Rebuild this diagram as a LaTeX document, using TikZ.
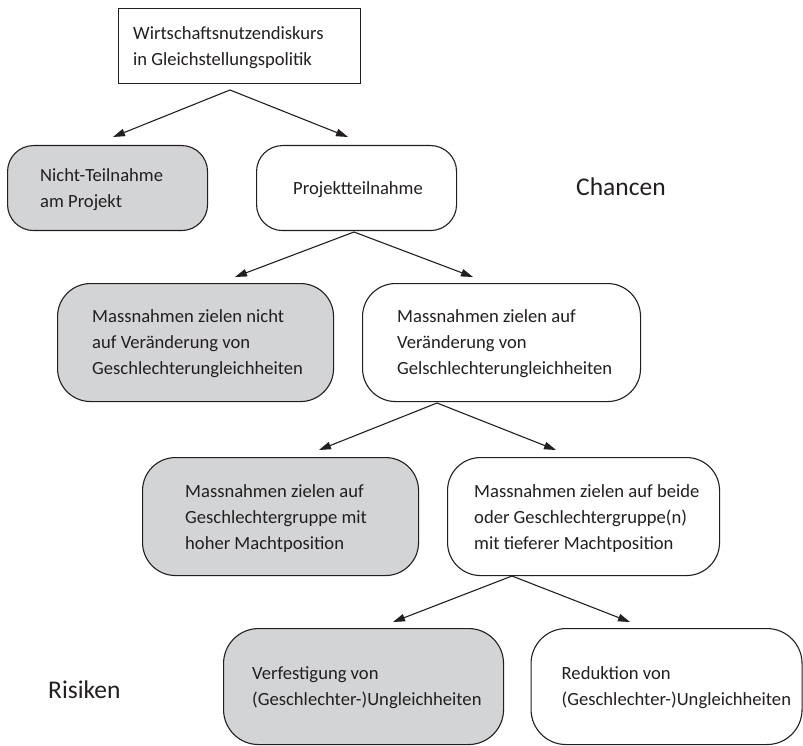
\documentclass[tikz,border=0pt]{standalone}
\usepackage{fontspec}
\setmainfont{Carlito}
\usetikzlibrary{arrows.meta}
\definecolor{boxgray}{RGB}{211,212,214}
\definecolor{ink}{RGB}{35,31,32}
\begin{document}
\begin{tikzpicture}[x=1pt,y=-1pt,
  every node/.style={text=ink},
  box/.style={draw=ink, line width=1.1pt, anchor=north west, inner sep=0pt},
  gbox/.style={box, fill=boxgray},
  wbox/.style={box, fill=white},
  txt/.style={align=left, anchor=west, inner sep=0pt, yshift=-1.5pt,
    font=\fontsize{18.6}{26}\selectfont},
  big/.style={font=\fontsize{25.5}{30}\selectfont, inner sep=0pt},
  arr/.style={draw=ink, line width=1.1pt, -{Triangle[length=12pt,width=7.5pt]}}]
\useasboundingbox (0,0) rectangle (803,746);

% boxes
\node[wbox, minimum width=242pt, minimum height=75pt] (top) at (118,8) {};
\node[txt, xshift=15pt] (topt) at (top.west) {Wirtschaftsnutzendiskurs\\in Gleichstellungspolitik};

\node[gbox, rounded corners=26pt, minimum width=200pt, minimum height=85pt] (n1) at (7,145) {};
\node[txt, xshift=33pt] (n1t) at (n1.west) {Nicht-Teilnahme\\am Projekt};
\node[wbox, rounded corners=26pt, minimum width=200pt, minimum height=85pt] (n2) at (256,145) {};
\node[txt, xshift=37pt] (n2t) at (n2.west) {Projektteilnahme};

\node[gbox, rounded corners=33pt, minimum width=276pt, minimum height=118pt] (n3) at (57,283) {};
\node[txt, xshift=35pt] (n3t) at (n3.west) {Massnahmen zielen nicht\\auf Veränderung von\\Geschlechterungleichheiten};
\node[wbox, rounded corners=33pt, minimum width=278pt, minimum height=118pt] (n4) at (362,283) {};
\node[txt, xshift=35pt] (n4t) at (n4.west) {Massnahmen zielen auf\\Veränderung von\\Gelschlechterungleichheiten};

\node[gbox, rounded corners=33pt, minimum width=276pt, minimum height=118pt] (n5) at (142,457) {};
\node[txt, xshift=43pt] (n5t) at (n5.west) {Massnahmen zielen auf\\Geschlechtergruppe mit\\hoher Machtposition};
\node[wbox, rounded corners=33pt, minimum width=272pt, minimum height=118pt] (n6) at (447,457) {};
\node[txt, xshift=27pt] (n6t) at (n6.west) {Massnahmen zielen auf beide\\oder Geschlechtergruppe(n)\\mit tieferer Machtposition};

\node[gbox, rounded corners=35pt, minimum width=280pt, minimum height=116pt] (n7) at (223,628) {};
\node[txt, xshift=29pt] (n7t) at (n7.west) {Verfestigung von\\(Geschlechter-)Ungleichheiten};
\node[wbox, rounded corners=35pt, minimum width=271pt, minimum height=116pt] (n8) at (530.5,628) {};
\node[txt, xshift=31pt] (n8t) at (n8.west) {Reduktion von\\(Geschlechter-)Ungleichheiten};

% side labels
\node[big, anchor=west] (chancen) at (576,187) {Chancen};
\node[big, anchor=west] (risiken) at (48,690) {Risiken};

% connector ends
\coordinate (s0) at (230,90);
\coordinate (t1) at (113,137);
\coordinate (t2) at (348,137);
\coordinate (s1) at (354,232);
\coordinate (t3) at (235,277);
\coordinate (t4) at (473,277);
\coordinate (s2) at (437,403);
\coordinate (t5) at (319,450);
\coordinate (t6) at (556,450);
\coordinate (s3) at (512,576);
\coordinate (t7) at (393,622);
\coordinate (t8) at (630,622);

\draw[arr] (s0) -- (t1);
\draw[arr] (s0) -- (t2);
\draw[arr] (s1) -- (t3);
\draw[arr] (s1) -- (t4);
\draw[arr] (s2) -- (t5);
\draw[arr] (s2) -- (t6);
\draw[arr] (s3) -- (t7);
\draw[arr] (s3) -- (t8);
\end{tikzpicture}
\end{document}
